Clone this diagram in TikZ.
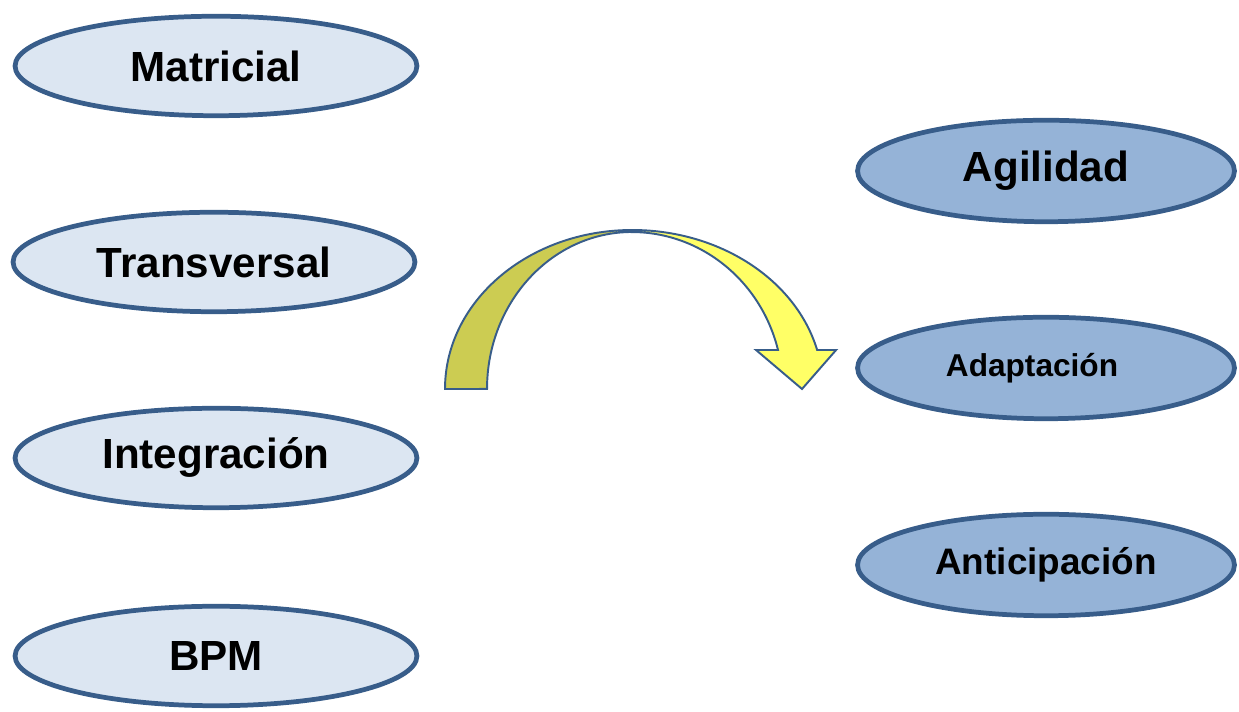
\documentclass[tikz,border=0pt]{standalone}
\usepackage{fontspec}
\setmainfont{Liberation Sans}
\usetikzlibrary{shapes.geometric}

\definecolor{rimblue}{RGB}{56,93,138}
\definecolor{paleblue}{RGB}{220,230,242}
\definecolor{midblue}{RGB}{149,179,215}
\definecolor{oliveband}{RGB}{204,204,82}
\definecolor{brightband}{RGB}{255,255,102}

\begin{document}
\begin{tikzpicture}[
  x=0.02cm, y=0.02cm,
  oval/.style={ellipse, draw=rimblue, line width=2.7pt, inner sep=0pt,
    font=\bfseries\fontsize{24}{28}\selectfont},
  leftoval/.style={oval, fill=paleblue, minimum width=8.04cm, minimum height=1.99cm},
  rightoval/.style={oval, fill=midblue, minimum width=7.54cm, minimum height=2.03cm},
  band/.style={draw=rimblue, line width=1.1pt, line join=miter}
]
\useasboundingbox (0,0) rectangle (1239,712);

% left column
\node[leftoval] (matricial) at (216,646) {Matricial};
\node[leftoval] (transversal) at (214,450) {Transversal};
\node[leftoval] (integracion) at (216,254) {Integración};
\node[leftoval] (bpm) at (216,56) {BPM};

% right column
\node[rightoval] (agilidad) at (1046,541) {Agilidad};
\node[rightoval, font=\bfseries\fontsize{18}{22}\selectfont] (adaptacion) at (1046,344) {Adaptación\hspace*{0.56cm}};
\node[rightoval, font=\bfseries\fontsize{21}{25}\selectfont] (anticipacion) at (1046,147) {Anticipación};

% curved arrow
\coordinate (foot) at (445,323);
\coordinate (crest) at (632,480);
\draw[band, fill=oliveband] (foot)
  arc[start angle=180, end angle=90, x radius=3.74cm, y radius=3.18cm]
  -- (crest)
  arc[start angle=90, end angle=180, x radius=2.9cm, y radius=3.14cm]
  -- cycle;
\draw[band, fill=brightband] (632,482)
  arc[start angle=90, end angle=14.2, x radius=3.82cm, y radius=3.18cm]
  -- ++(19,0) -- (802,323) -- (756,362) -- (778,362)
  arc[start angle=14.4, end angle=90, x radius=3.02cm, y radius=3.14cm]
  -- cycle;
\end{tikzpicture}
\end{document}
